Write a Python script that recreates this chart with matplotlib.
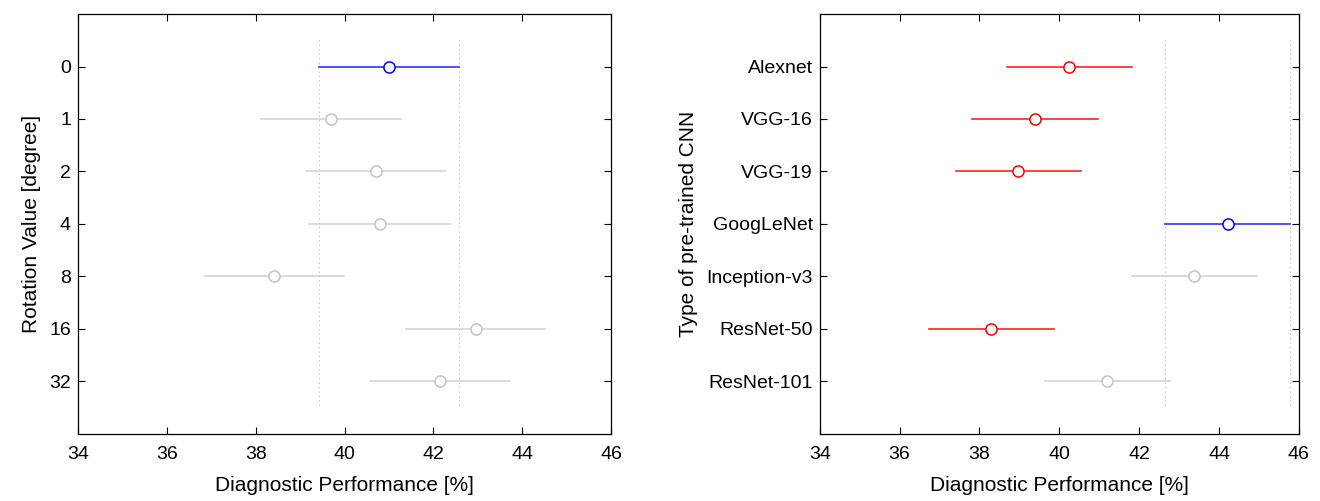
import numpy as np
import matplotlib
matplotlib.use('Agg')
import matplotlib.pyplot as plt

plt.rcParams['font.family'] = ['Liberation Sans', 'DejaVu Sans']

# left panel: rotation value
rot_labels = ['0', '1', '2', '4', '8', '16', '32']
rot_mean = [41.00, 39.69, 40.70, 40.79, 38.42, 42.95, 42.15]
rot_lo = [39.43, 38.13, 39.14, 39.21, 36.87, 41.38, 40.58]
rot_hi = [42.57, 41.27, 42.27, 42.37, 39.99, 44.52, 43.73]
rot_col = ['blue', 'gray', 'gray', 'gray', 'gray', 'gray', 'gray']

# right panel: pre-trained CNN
cnn_labels = ['Alexnet', 'VGG-16', 'VGG-19', 'GoogLeNet', 'Inception-v3', 'ResNet-50', 'ResNet-101']
cnn_mean = [40.25, 39.38, 38.97, 44.22, 43.38, 38.30, 41.20]
cnn_lo = [38.69, 37.81, 37.41, 42.65, 41.81, 36.73, 39.64]
cnn_hi = [41.83, 40.96, 40.55, 45.79, 44.95, 39.87, 42.78]
cnn_col = ['red', 'red', 'red', 'blue', 'gray', 'red', 'gray']

xticks = [34, 36, 38, 40, 42, 44, 46]

line_c = {'blue': '#3030ff', 'red': '#ff2020', 'gray': '#d4d4d4'}
mark_c = {'blue': '#0000ff', 'red': '#ff0000', 'gray': '#c4c4c4'}


def panel(ax, labels, mean, lo, hi, col, sel, ylabel):
    y = np.arange(1, len(labels) + 1)
    ax.vlines([lo[sel], hi[sel]], 0.5, len(labels) + 0.5, colors='#b8b8b8',
              linestyles=(0, (1, 3)), linewidth=0.8)
    for i in range(len(labels)):
        ax.plot([lo[i], hi[i]], [y[i], y[i]], color=line_c[col[i]], linewidth=1.2)
        ax.plot(mean[i], y[i], 'o', mfc='white', mec=mark_c[col[i]], ms=8, mew=1.1)
    ax.set_xlim(34, 46)
    ax.set_ylim(len(labels) + 1, 0)
    ax.set_yticks(y)
    ax.set_yticklabels(labels)
    ax.set_xticks(xticks)
    ax.tick_params(direction='in', top=True, right=True, labelsize=14, length=5, width=0.8)
    ax.tick_params(axis='x', pad=9)
    ax.tick_params(axis='y', pad=5)
    ax.set_xlabel('Diagnostic Performance [%]', fontsize=15, labelpad=9)
    ax.set_ylabel(ylabel, fontsize=15, labelpad=6)
    for s in ax.spines.values():
        s.set_linewidth(0.9)


fig = plt.figure(figsize=(13.2, 5.01), dpi=100)
ax1 = fig.add_axes([0.059, 0.134, 0.404, 0.838])
ax2 = fig.add_axes([0.621, 0.134, 0.363, 0.838])

panel(ax1, rot_labels, rot_mean, rot_lo, rot_hi, rot_col, 0, 'Rotation Value [degree]')
panel(ax2, cnn_labels, cnn_mean, cnn_lo, cnn_hi, cnn_col, 3, 'Type of pre-trained CNN')

fig.savefig('out.png', dpi=100)
